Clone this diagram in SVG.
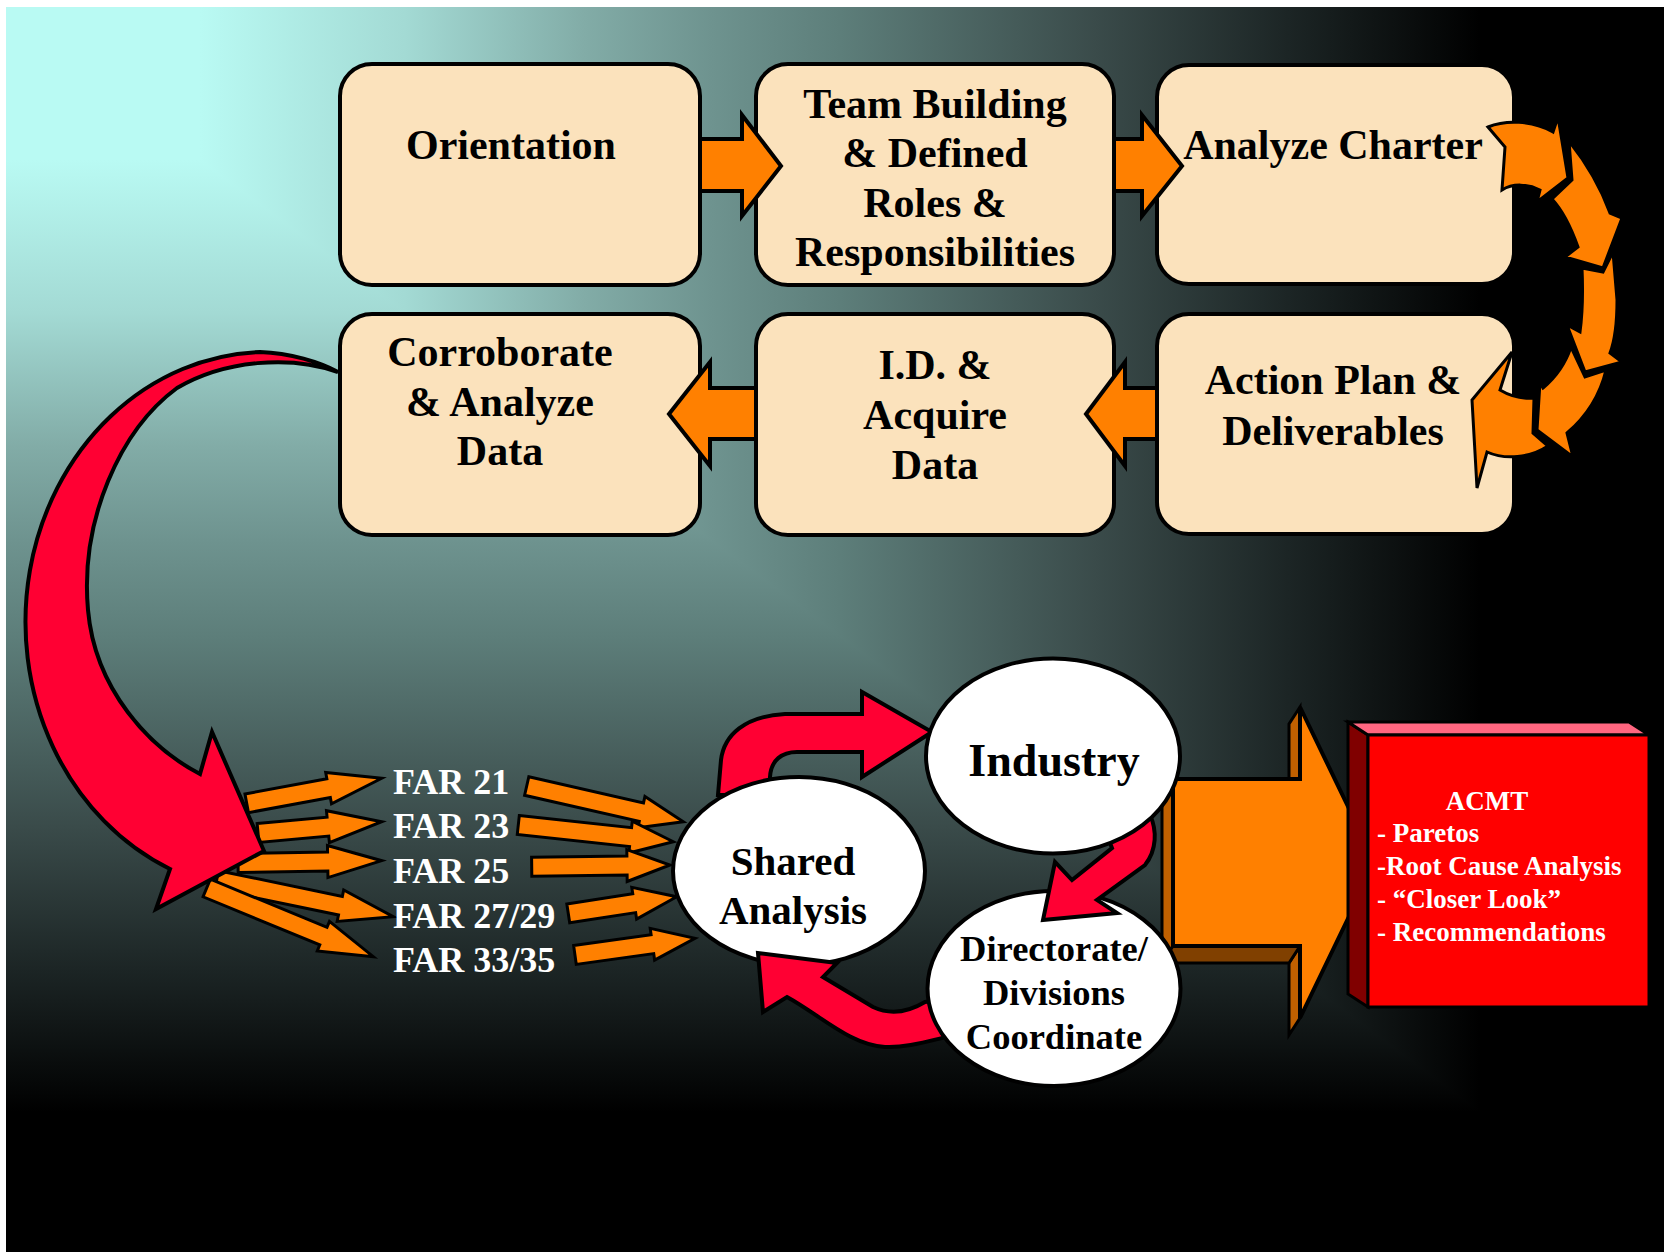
<svg xmlns="http://www.w3.org/2000/svg" width="1664" height="1252" viewBox="0 0 1664 1252">
<defs>
<linearGradient id="gh" gradientUnits="userSpaceOnUse" x1="200" y1="0" x2="1480" y2="0">
<stop offset="0" stop-color="#b9faf3"/><stop offset="0.16" stop-color="#a3dad4"/><stop offset="0.3" stop-color="#82aca7"/><stop offset="0.4" stop-color="#6e938f"/><stop offset="0.5" stop-color="#5d7e7a"/><stop offset="0.7" stop-color="#3a4b4a"/><stop offset="0.85" stop-color="#1c2525"/><stop offset="1" stop-color="#000"/>
</linearGradient>
<linearGradient id="gv" gradientUnits="userSpaceOnUse" x1="0" y1="160" x2="0" y2="1112">
<stop offset="0" stop-color="#b9faf3"/><stop offset="0.16" stop-color="#a3dad4"/><stop offset="0.3" stop-color="#82aca7"/><stop offset="0.4" stop-color="#6e938f"/><stop offset="0.5" stop-color="#5d7e7a"/><stop offset="0.7" stop-color="#3a4b4a"/><stop offset="0.85" stop-color="#1c2525"/><stop offset="1" stop-color="#000"/>
</linearGradient>
<style>
.box{fill:#fbe2bc;stroke:#000;stroke-width:4}
.bt{font-family:"Liberation Serif","Times New Roman",serif;font-weight:bold;font-size:42px;fill:#000;text-anchor:middle}
.oa{fill:#ff8000;stroke:#000;stroke-width:4;stroke-linejoin:miter}
.sa{fill:#ff8000;stroke:#000;stroke-width:3;stroke-linejoin:miter}
.ra{fill:#ff0033;stroke:#000;stroke-width:4;stroke-linejoin:miter}
.ell{fill:#fff;stroke:#000;stroke-width:4}
.far{font-family:"Liberation Serif","Times New Roman",serif;font-weight:bold;font-size:36px;fill:#fff}
.et{font-family:"Liberation Serif","Times New Roman",serif;font-weight:bold;fill:#000;text-anchor:middle}
.acm{font-family:"Liberation Serif","Times New Roman",serif;font-weight:bold;font-size:27px;fill:#fff}
</style>
</defs>
<rect x="0" y="0" width="1664" height="1252" fill="#fff"/>
<rect x="6" y="7" width="1658" height="1245" fill="url(#gv)"/>
<polygon points="6,7 1664,7 1664,1249 200,160 6,160" fill="url(#gh)"/>

<g id="orientation"><rect class="box" x="340" y="64" width="360" height="221" rx="32"/><text class="bt" x="511" y="159">Orientation</text></g>
<g id="team-building"><rect class="box" x="756" y="64" width="358" height="221" rx="32"/>
<text class="bt" x="935" y="118">Team Building</text><text class="bt" x="935" y="167">&amp; Defined</text><text class="bt" x="935" y="217">Roles &amp;</text><text class="bt" x="935" y="266">Responsibilities</text></g>
<g id="analyze-charter"><rect class="box" x="1157" y="65" width="357" height="219" rx="32"/><text class="bt" x="1333" y="159">Analyze Charter</text></g>
<g id="corroborate"><rect class="box" x="340" y="314" width="360" height="221" rx="32"/>
<text class="bt" x="500" y="366">Corroborate</text><text class="bt" x="500" y="416">&amp; Analyze</text><text class="bt" x="500" y="465">Data</text></g>
<g id="id-acquire"><rect class="box" x="756" y="314" width="358" height="221" rx="32"/>
<text class="bt" x="935" y="379">I.D. &amp;</text><text class="bt" x="935" y="429">Acquire</text><text class="bt" x="935" y="479">Data</text></g>
<g id="action-plan"><rect class="box" x="1157" y="314" width="357" height="220" rx="32"/>
<text class="bt" x="1333" y="394">Action Plan &amp;</text><text class="bt" x="1333" y="445">Deliverables</text></g>

<g id="connectors">
<polygon class="oa" points="700,139 742,139 742,115 781,166 742,216 742,191 700,191"/>
<polygon class="oa" points="1114,139 1142,139 1142,115 1182,166 1142,216 1142,191 1114,191"/>
<polygon class="oa" points="756,388 710,388 710,362 669,414 710,466 710,439 756,439"/>
<polygon class="oa" points="1157,388 1125,388 1125,362 1086,414 1125,466 1125,439 1157,439"/>
<path class="sa" d="M1488,127 C1505,120 1532,120 1553,132 L1558,117 L1568,178 L1537,202 L1540,190 C1528,184 1513,183 1502,190 L1505,147 Z"/>
<path class="sa" d="M1569,141 C1584,160 1600,185 1610,213 L1622,218 L1603,268 L1565,257 L1578,247 C1572,230 1565,213 1552,199 L1572,180 Z"/>
<path class="sa" d="M1613,252 L1617,300 C1617,325 1615,340 1610,353 L1622,362 L1585,372 L1567,325 L1580,332 C1583,310 1583,290 1582,268 L1603,272 Z"/>
<path class="sa" d="M1606,370 C1600,395 1588,415 1567,433 L1573,457 L1537,430 L1540,382 L1543,388 C1555,378 1565,365 1571,347 L1585,377 Z"/>
<path class="sa" d="M1548,446 C1530,458 1505,460 1487,452 L1477,488 L1472,400 L1512,352 L1500,390 C1510,396 1522,399 1534,398 L1533,433 Z"/>

<g id="far-in">
<polygon class="sa" transform="translate(381.7,778.3) rotate(-10.49)" points="-137.3,-9.5 -54,-9.5 -54,-16 0,0 -54,16 -54,9.5 -137.3,9.5"/>
<polygon class="sa" transform="translate(381.7,821.7) rotate(-5.22)" points="-124.2,-9.5 -54,-9.5 -54,-16 0,0 -54,16 -54,9.5 -124.2,9.5"/>
<polygon class="sa" transform="translate(381.7,860.7) rotate(-0.92)" points="-143.7,-9.5 -54,-9.5 -54,-16 0,0 -54,16 -54,9.5 -143.7,9.5"/>
<polygon class="sa" transform="translate(393.3,916.7) rotate(11.74)" points="-180.4,-9.5 -54,-9.5 -54,-16 0,0 -54,16 -54,9.5 -180.4,9.5"/>
<polygon class="sa" transform="translate(373.3,956.7) rotate(22.41)" points="-180.2,-9.5 -54,-9.5 -54,-16 0,0 -54,16 -54,9.5 -180.2,9.5"/>
</g>
<path class="ra" d="M338,372 C320,362 290,353 260,352 A242,270 0 0 0 170,869 L156,909 L264,851 L212,732 L200,774 C150,748 95,690 88,610 C80,520 120,430 177,388 C225,360 290,355 338,372 Z"/>
<g id="far-out">
<polygon class="sa" transform="translate(683.3,821.7) rotate(12.84)" points="-160.6,-9.5 -43,-9.5 -43,-16 0,0 -43,16 -43,9.5 -160.6,9.5"/>
<polygon class="sa" transform="translate(673.3,841.7) rotate(6.15)" points="-155.9,-9.5 -43,-9.5 -43,-16 0,0 -43,16 -43,9.5 -155.9,9.5"/>
<polygon class="sa" transform="translate(670,865) rotate(-0.70)" points="-138.3,-9.5 -43,-9.5 -43,-16 0,0 -43,16 -43,9.5 -138.3,9.5"/>
<polygon class="sa" transform="translate(676.7,896.7) rotate(-8.71)" points="-109.7,-9.5 -43,-9.5 -43,-16 0,0 -43,16 -43,9.5 -109.7,9.5"/>
<polygon class="sa" transform="translate(695,938.3) rotate(-7.92)" points="-121.2,-9.5 -43,-9.5 -43,-16 0,0 -43,16 -43,9.5 -121.2,9.5"/>
</g>
<g id="big-arrow">
<polygon fill="#c06000" stroke="#000" stroke-width="3" points="1173,779 1162,796 1162,963 1173,946"/>
<polygon fill="#c06000" stroke="#000" stroke-width="3" points="1300,707 1289,724 1289,796 1300,779"/>
<polygon fill="#c06000" stroke="#000" stroke-width="3" points="1300,946 1289,963 1289,1035 1300,1018"/>
<polygon fill="#804000" stroke="#000" stroke-width="3" points="1173,946 1162,963 1289,963 1300,946"/>
<polygon fill="#ff8000" stroke="#000" stroke-width="4" points="1173,779 1300,779 1300,707 1375,862.5 1300,1018 1300,946 1173,946"/>
</g>
<path class="ra" d="M718,795 L721,760 C724,735 745,716 785,714 L862,714 L862,692 L932,732 L862,777 L862,752 L797,752 C782,752 771,760 770,777 L770,795 Z"/>
</g>

<g id="shared-analysis"><ellipse class="ell" cx="799" cy="871" rx="126" ry="94"/>
<text class="et" font-size="41" x="793" y="875">Shared</text><text class="et" font-size="41" x="793" y="924">Analysis</text></g>

<path class="ra" d="M955,998 L925,1002 C905,1014 888,1014 873,1007 L823,977 L837,963 L758,953 L763,1012 L787,997 C820,1015 850,1045 885,1047 C905,1048 925,1042 955,1035 Z"/>

<g id="directorate"><ellipse class="ell" cx="1054" cy="988.5" rx="126.5" ry="97.5"/>
<text class="et" font-size="36.5" x="1054" y="961">Directorate/</text><text class="et" font-size="36.5" x="1054" y="1005">Divisions</text><text class="et" font-size="36.5" x="1054" y="1049">Coordinate</text></g>

<path class="ra" d="M1108,838 L1150,815 C1157,830 1157,850 1145,865 L1097,900 L1117,913 L1043,920 L1055,862 L1072,880 L1112,848 Z"/>

<g id="industry"><ellipse class="ell" cx="1053" cy="756" rx="127" ry="97.5"/>
<text class="et" font-size="46" x="1054" y="776">Industry</text></g>

<g id="far-labels">
<text class="far" x="393" y="794">FAR 21</text>
<text class="far" x="393" y="838">FAR 23</text>
<text class="far" x="393" y="883">FAR 25</text>
<text class="far" x="393" y="928">FAR 27/29</text>
<text class="far" x="393" y="972">FAR 33/35</text>
</g>

<g id="acmt">
<polygon fill="#800000" stroke="#000" stroke-width="3" points="1348,722 1368,735 1368,1007 1348,994"/>
<polygon fill="#ff6680" stroke="#000" stroke-width="3" points="1348,722 1629,722 1649,735 1368,735"/>
<rect x="1368" y="735" width="281" height="272" fill="#ff0000" stroke="#000" stroke-width="3"/>
<text class="acm" x="1487" y="810" text-anchor="middle">ACMT</text>
<text class="acm" x="1377" y="842">- Paretos</text>
<text class="acm" x="1377" y="875">-Root Cause Analysis</text>
<text class="acm" x="1377" y="908">- “Closer Look”</text>
<text class="acm" x="1377" y="941">- Recommendations</text>
</g>
</svg>
